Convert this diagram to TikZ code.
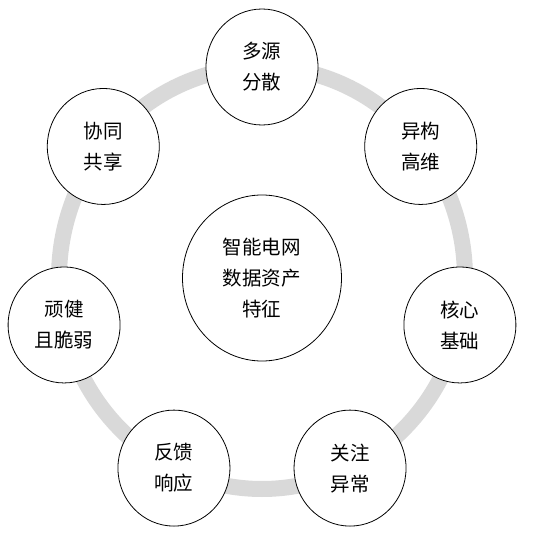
\documentclass[tikz,border=0pt]{standalone}
\usepackage{fontspec}
\newfontfamily\cjk{Noto Sans CJK SC}
\usepackage{tikz}
\usetikzlibrary{shapes.geometric}
\definecolor{ringgray}{RGB}{217, 217, 217}

\tikzset{
  feat/.style={ellipse, draw=black, line width=0.8pt, fill=white,
    minimum width=112pt, minimum height=116pt, inner sep=0pt,
    align=center, font=\cjk\fontsize{19.5}{31}\selectfont},
  core/.style={feat, minimum width=159pt, minimum height=166pt},
}

\begin{document}
\begin{tikzpicture}[x=1pt, y=1pt]
  \useasboundingbox (-262,-255) rectangle (282,278);
  % ring behind the seven features
  \draw[ringgray, line width=16pt] (0,0) ellipse (203 and 211);
  \node[core] (center) at (0,0) {智能电网\\数据资产\\特征};
  \node[feat] (source) at (90:203 and 211) {多源\\分散};
  \node[feat] (hetero) at (38.57:203 and 211) {异构\\高维};
  \node[feat] (basis) at (-12.86:203 and 211) {核心\\基础};
  \node[feat] (anomaly) at (-64.29:203 and 211) {关注\\异常};
  \node[feat] (feedback) at (-115.71:203 and 211) {反馈\\响应};
  \node[feat] (robust) at (192.86:203 and 211) {顽健\\且脆弱};
  \node[feat] (share) at (141.43:203 and 211) {协同\\共享};
\end{tikzpicture}
\end{document}
